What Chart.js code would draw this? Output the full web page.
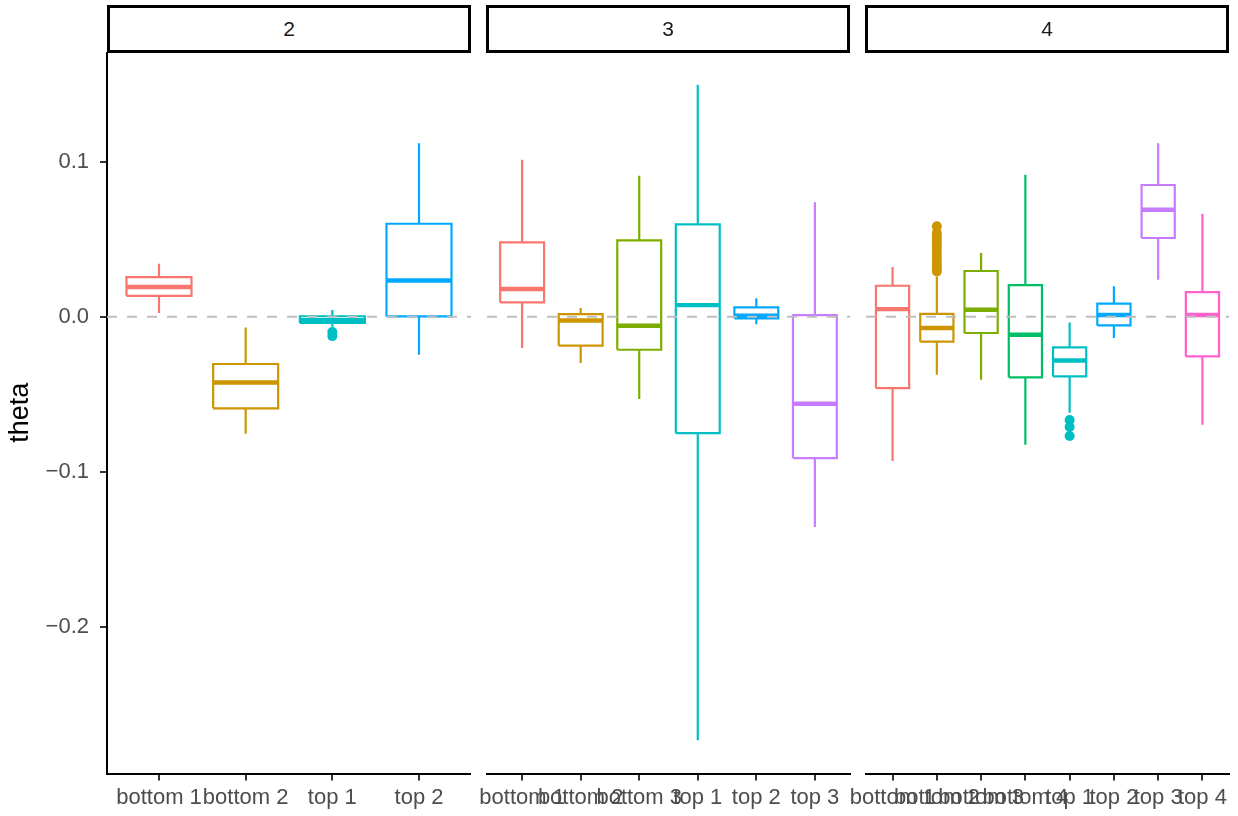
<!DOCTYPE html>
<html lang="en">
  <head>
    <meta charset="UTF-8" />
    <title>theta</title>
    <style>
      body {
        margin: 0;
        padding: 0;
        background-color: #fff;
        font-family: "Liberation Sans", Arial, sans-serif;
      }
      .page {
        position: relative;
        width: 1238px;
        height: 816px;
        overflow: hidden;
      }
      .strip {
        position: absolute;
        top: 5px;
        width: 364px;
        height: 48px;
        box-sizing: border-box;
        border: 3px solid #000;
        background-color: #fff;
        color: #1a1a1a;
        font-size: 21px;
        display: flex;
        align-items: center;
        justify-content: center;
        z-index: 2;
      }
      canvas {
        position: absolute;
        top: 52px;
      }
    </style>
  </head>
  <body>
    <div class="page">
      <canvas id="panel1" width="471" height="764" style="left: 0px"></canvas>
      <canvas id="panel2" width="403" height="764" style="left: 467px"></canvas>
      <canvas id="panel3" width="392" height="764" style="left: 846px"></canvas>
      <div class="strip" id="strip1" style="left: 107px"></div>
      <div class="strip" id="strip2" style="left: 486px"></div>
      <div class="strip" id="strip3" style="left: 865px"></div>
    </div>

    <script src="https://cdn.jsdelivr.net/npm/chart.js@4.4.1/dist/chart.umd.min.js"></script>
    <script>
      const panelNames = ["2", "3", "4"];

      const yTicks = [-0.2, -0.1, 0, 0.1];
      const yTickLabels = ["\u22120.2", "\u22120.1", "0.0", "0.1"];

      // panel "2"
      const groups2 = ["bottom 1", "bottom 2", "top 1", "top 2"];
      const lower2 = [0.0024, -0.0755, -0.0065, -0.0245];
      const q1_2 = [0.0135, -0.0591, -0.004, 0.0002];
      const median2 = [0.0192, -0.0424, -0.0022, 0.0234];
      const q3_2 = [0.0256, -0.0305, 0.0003, 0.06];
      const upper2 = [0.0342, -0.0069, 0.0043, 0.112];
      const outliers2 = [[], [], [-0.0099, -0.0125], []];

      // panel "3"
      const groups3 = ["bottom 1", "bottom 2", "bottom 3", "top 1", "top 2", "top 3"];
      const lower3 = [-0.0202, -0.0299, -0.0531, -0.2732, -0.0049, -0.1357];
      const q1_3 = [0.0092, -0.0187, -0.0213, -0.0751, -0.001, -0.0912];
      const median3 = [0.0179, -0.0024, -0.0058, 0.0075, 0.0006, -0.0561];
      const q3_3 = [0.048, 0.0017, 0.0492, 0.0596, 0.0061, 0.0011];
      const upper3 = [0.1013, 0.0056, 0.091, 0.1497, 0.0119, 0.0738];
      const outliers3 = [[], [], [], [], [], []];

      // panel "4"
      const groups4 = ["bottom 1", "bottom 2", "bottom 3", "bottom 4", "top 1", "top 2", "top 3", "top 4"];
      const lower4 = [-0.0931, -0.0374, -0.0406, -0.0826, -0.062, -0.0138, 0.0239, -0.0697];
      const q1_4 = [-0.046, -0.0161, -0.0105, -0.0391, -0.0385, -0.0056, 0.0508, -0.0256];
      const median4 = [0.0049, -0.0073, 0.0045, -0.0116, -0.0282, 0.0011, 0.069, 0.0011];
      const q3_4 = [0.02, 0.0019, 0.0295, 0.0204, -0.0198, 0.0084, 0.085, 0.0159];
      const upper4 = [0.0321, 0.026, 0.0411, 0.0916, -0.0037, 0.0196, 0.112, 0.0665];
      const outliers4 = [
        [],
        [0.0583, 0.054, 0.052, 0.0495, 0.0475, 0.0455, 0.043, 0.0405, 0.038, 0.0355, 0.033, 0.031, 0.0292],
        [],
        [],
        [-0.0667, -0.0712, -0.077],
        [],
        [],
        [],
      ];

      const palette = {
        "bottom 1": "#F8766D",
        "bottom 2": "#CD9600",
        "bottom 3": "#7CAE00",
        "bottom 4": "#00BE67",
        "top 1": "#00BFC4",
        "top 2": "#00A9FF",
        "top 3": "#C77CFF",
        "top 4": "#FF61CC",
      };

      const fontFamily = '"Liberation Sans", Arial, sans-serif';
      const boxHalf = 0.375; // ggplot default width 0.75

      function segment(color, width, points) {
        return {
          data: points,
          showLine: true,
          borderColor: color,
          borderWidth: width,
          borderCapStyle: "butt",
          borderJoinStyle: "miter",
          pointRadius: 0,
          fill: false,
          order: 1,
        };
      }

      function buildDatasets(groups, lower, q1, median, q3, upper, outliers) {
        const datasets = [];
        // dashed reference line at 0, on top of the boxes
        datasets.push({
          data: [
            { x: -0.6, y: 0 },
            { x: groups.length - 0.4, y: 0 },
          ],
          showLine: true,
          borderColor: "#BEBEBE",
          borderWidth: 2,
          borderDash: [10, 10],
          pointRadius: 0,
          order: 0,
        });
        groups.forEach((g, i) => {
          const col = palette[g];
          datasets.push(segment(col, 2.2, [
            { x: i, y: q3[i] },
            { x: i, y: upper[i] },
          ]));
          datasets.push(segment(col, 2.2, [
            { x: i, y: q1[i] },
            { x: i, y: lower[i] },
          ]));
          datasets.push(segment(col, 2.2, [
            { x: i - boxHalf, y: q1[i] },
            { x: i + boxHalf, y: q1[i] },
            { x: i + boxHalf, y: q3[i] },
            { x: i - boxHalf, y: q3[i] },
            { x: i - boxHalf, y: q1[i] },
          ]));
          datasets.push(segment(col, 4.4, [
            { x: i - boxHalf, y: median[i] },
            { x: i + boxHalf, y: median[i] },
          ]));
          if (outliers[i].length) {
            datasets.push({
              data: outliers[i].map((v) => ({ x: i, y: v })),
              showLine: false,
              pointRadius: 5,
              pointBorderWidth: 0,
              pointBackgroundColor: col,
              pointBorderColor: col,
              order: 1,
            });
          }
        });
        return datasets;
      }

      function makePanel(canvasId, groups, lower, q1, median, q3, upper, outliers, showY, padLeft, padRight) {
        const ctx = document.getElementById(canvasId).getContext("2d");
        return new Chart(ctx, {
          type: "scatter",
          data: { datasets: buildDatasets(groups, lower, q1, median, q3, upper, outliers) },
          options: {
            responsive: false,
            animation: false,
            events: [],
            layout: {
              padding: { left: padLeft, right: padRight, top: 0, bottom: 0 },
              autoPadding: false,
            },
            plugins: {
              legend: { display: false },
              tooltip: { enabled: false },
            },
            scales: {
              x: {
                type: "linear",
                min: -0.6,
                max: groups.length - 0.4,
                afterBuildTicks: (s) => {
                  s.ticks = groups.map((g, i) => ({ value: i }));
                },
                afterFit: (s) => {
                  s.height = 42.5;
                  s.paddingLeft = 0;
                  s.paddingRight = 0;
                },
                ticks: {
                  autoSkip: false,
                  maxRotation: 0,
                  minRotation: 0,
                  padding: 4,
                  color: "#4D4D4D",
                  font: { family: fontFamily, size: 22 },
                  callback: (v, idx) => groups[idx],
                },
                grid: {
                  display: true,
                  drawOnChartArea: false,
                  drawTicks: true,
                  tickLength: 7,
                  color: "#333333",
                  lineWidth: 2,
                },
                border: { display: true, color: "#000", width: 2 },
              },
              y: {
                type: "linear",
                display: showY,
                min: -0.2947,
                max: 0.1708,
                afterBuildTicks: (s) => {
                  s.ticks = yTicks.map((v) => ({ value: v }));
                },
                afterFit: (s) => {
                  if (showY) s.width = 107;
                  s.paddingTop = 0;
                  s.paddingBottom = 0;
                },
                ticks: {
                  padding: 11,
                  color: "#4D4D4D",
                  font: { family: fontFamily, size: 22 },
                  callback: (v, idx) => yTickLabels[idx],
                },
                title: {
                  display: true,
                  text: "theta",
                  color: "#000",
                  font: { family: fontFamily, size: 27 },
                  padding: { top: 4, bottom: 0 },
                },
                grid: {
                  display: true,
                  drawOnChartArea: false,
                  drawTicks: true,
                  tickLength: 7,
                  color: "#333333",
                  lineWidth: 2,
                },
                border: { display: true, color: "#000", width: 2 },
              },
            },
          },
        });
      }

      document.getElementById("strip1").textContent = panelNames[0];
      document.getElementById("strip2").textContent = panelNames[1];
      document.getElementById("strip3").textContent = panelNames[2];

      makePanel("panel1", groups2, lower2, q1_2, median2, q3_2, upper2, outliers2, true, 0, 0);
      makePanel("panel2", groups3, lower3, q1_3, median3, q3_3, upper3, outliers3, false, 20, 20);
      makePanel("panel3", groups4, lower4, q1_4, median4, q3_4, upper4, outliers4, false, 20, 9);
    </script>
  </body>
</html>
